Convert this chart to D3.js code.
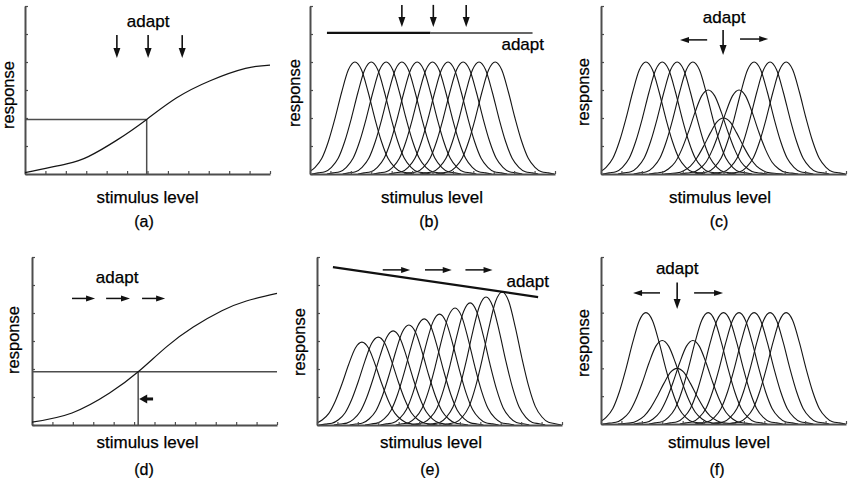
<!DOCTYPE html>
<html><head><meta charset="utf-8">
<script src="https://cdn.jsdelivr.net/npm/d3@7"></script>
<style>
body{margin:0;background:#fff}
svg{display:block}
text{font-family:"Liberation Sans",Arial,Helvetica,sans-serif;fill:#000;stroke:#000;stroke-width:0.25px}
</style>
</head><body>
<svg id="chart" width="854" height="478"></svg>
<script>
// ---------------- data ----------------
const stimTicks = d3.range(0, 13);   // stimulus-level tick positions
const respTicks = d3.range(0, 7);    // response tick positions
const panelLetters = ["(a)", "(b)", "(c)", "(d)", "(e)", "(f)"];

// shape of one tuning curve: offset from its centre vs. fraction of its peak
const bellOffsets   = [-2.9,-2.6,-2.27,-1.95,-1.62,-1.3,-0.97,-0.65,-0.32,0,0.32,0.65,0.97,1.3,1.62,1.95,2.27,2.6,2.9];
const bellFractions = [0.00,0.01,0.02,0.06,0.14,0.29,0.50,0.73,0.93,1,0.93,0.73,0.50,0.29,0.14,0.06,0.02,0.01,0.00];

const tuningCenters = [2.2, 3.0, 3.73, 4.5, 5.25, 6.0, 6.76, 7.5, 8.28, 9.07];
const peaksB = [4, 4, 4, 4, 4, 4, 4, 4, 4, 4];
const peaksC = [4, 4, 4, 4, 3, 2, 3, 4, 4, 4];
const peaksE = [2.96, 3.14, 3.36, 3.57, 3.79, 3.96, 4.18, 4.36, 4.57, 4.75];
const peaksF = [4, 3, 2, 3, 4, 4, 4, 4, 4, 4];

const sigmoidAX = [0, 2.04, 3.1, 4.5, 5.96, 7.43, 9.07, 10.8, 12];
const sigmoidAY = [0.05, 0.36, 0.62, 1.21, 1.95, 2.72, 3.33, 3.77, 3.89];
const sigmoidDX = [0, 1.96, 3.8, 5.2, 6.6, 7.9, 9.3, 10.5, 12];
const sigmoidDY = [0.1, 0.43, 1.14, 1.9, 2.8, 3.5, 4.08, 4.43, 4.7];
const refPointA = [5.96, 1.95];
const refPointD = [5.2, 1.9];

// annotation arrows [x1, y1, x2, y2] in data units
const arrowsA = [[4.5,4.96,4.5,4.14],[6.03,4.96,6.03,4.14],[7.7,4.96,7.7,4.14]];
const arrowsB = [[4.5,6.04,4.5,5.25],[6.04,6.04,6.04,5.25],[7.65,6.04,7.65,5.25]];
const arrowsC = [[5.2,4.79,3.87,4.79],[5.98,5.14,5.98,4.25],[6.81,4.82,8.19,4.82]];
const arrowsD = [[1.96,4.52,3.09,4.52],[3.63,4.52,4.8,4.52],[5.39,4.52,6.52,4.52]];
const shiftArrowD = [5.93, 0.93, 5.25, 0.93];
const arrowsE = [[3.22,5.54,4.56,5.54],[5.29,5.54,6.6,5.54],[7.27,5.54,8.6,5.54]];
const arrowsF = [[2.89,4.71,1.57,4.71],[3.73,5.08,3.73,4.13],[4.56,4.71,5.98,4.71]];
const adaptLineB = [0.83, 5.9, 10.9, 5.04];          // x start, x split, x end, y
const adaptLineE = [0.78, 5.64, 10.83, 4.57];        // x1, y1, x2, y2
const adaptLabelPos = [[6.03,5.25],[10.42,4.43],[6.03,5.38],[4.17,5.08],[10.32,4.92],[3.73,5.39]];

// ---------------- layout ----------------
const panels = [
  {x0:25,  y0:174, yTop:6,   respX:13.5,  respY:95,  stimX:147.5, stimY:203, labX:144, labY:227},
  {x0:310, y0:174, yTop:6,   respX:300.3, respY:93,  stimX:432,   stimY:203, labX:429, labY:227},
  {x0:601, y0:174, yTop:6,   respX:588.6, respY:92,  stimX:720,   stimY:203, labX:719, labY:227},
  {x0:32,  y0:425, yTop:257, respX:18.6,  respY:340, stimX:147.5, stimY:448, labX:144, labY:475},
  {x0:317, y0:425, yTop:257, respX:305.3, respY:342, stimX:431,   stimY:448, labX:430, labY:475},
  {x0:601, y0:424, yTop:257, respX:588.6, respY:343, stimX:719,   stimY:448, labX:717, labY:475}
];
const AXW = 245;
const AXIS_COL = "#4d4d4d", CURVE_COL = "#151515";

const svg = d3.select("#chart");

function arrow(g, x, y, a, o) {
  const [x1,y1,x2,y2] = a;
  const X1 = x(x1), Y1 = y(y1), X2 = x(x2), Y2 = y(y2);
  const L = Math.hypot(X2-X1, Y2-Y1), ux = (X2-X1)/L, uy = (Y2-Y1)/L;
  const hl = o.hl, hw = o.hw;
  const bx = X2 - ux*hl, by = Y2 - uy*hl;
  g.append("line").attr("x1",X1).attr("y1",Y1).attr("x2",bx+ux*1).attr("y2",by+uy*1)
    .attr("stroke","#111").attr("stroke-width",o.sw);
  g.append("path")
    .attr("d",`M${X2},${Y2}L${bx - uy*hw/2},${by + ux*hw/2}L${bx + uy*hw/2},${by - ux*hw/2}Z`)
    .attr("fill","#111");
}

panels.forEach((p, i) => {
  const g = svg.append("g");
  const x = d3.scaleLinear().domain([0,12]).range([p.x0, p.x0 + AXW]);
  const y = d3.scaleLinear().domain([0,6]).range([p.y0, p.yTop]);
  p.x = x; p.y = y; p.g = g;

  // clip for curves to the plotting area
  const cid = "clip" + i;
  svg.append("clipPath").attr("id", cid).append("rect")
    .attr("x", p.x0).attr("y", 0).attr("width", AXW + 2).attr("height", p.y0 + 2);
  p.plot = g.append("g").attr("clip-path", `url(#${cid})`);

  // axes
  const ax = g.append("g").attr("transform",`translate(0,${p.y0})`)
    .call(d3.axisBottom(x).tickValues(stimTicks).tickSizeInner(-3).tickSizeOuter(0).tickFormat(""));
  const ay = g.append("g").attr("transform",`translate(${p.x0},0)`)
    .call(d3.axisLeft(y).tickValues(respTicks).tickSizeInner(-3).tickSizeOuter(0).tickFormat(""));
  [ax, ay].forEach(a => {
    a.select(".domain").attr("stroke",AXIS_COL).attr("stroke-width",2);
    a.selectAll(".tick line").attr("stroke",AXIS_COL).attr("stroke-width",1.2);
  });

  // texts
  g.append("text").attr("transform",`translate(${p.respX},${p.respY}) rotate(-90)`)
    .attr("text-anchor","middle").attr("font-size",16.5).text("response");
  g.append("text").attr("x",p.stimX).attr("y",p.stimY)
    .attr("text-anchor","middle").attr("font-size",17).text("stimulus level");
  g.append("text").attr("x",p.labX).attr("y",p.labY)
    .attr("text-anchor","middle").attr("font-size",16).text(panelLetters[i]);
  g.append("text").attr("x",x(adaptLabelPos[i][0])).attr("y",y(adaptLabelPos[i][1]))
    .attr("text-anchor","middle").attr("font-size",17).text("adapt");
});

// ----- sigmoid panels (a) and (d) -----
function sigmoidPanel(p, xs, ys, ref, fullRef) {
  const {g, x, y} = p;
  g.append("line").attr("x1",x(0)).attr("x2",fullRef ? x(12) : x(ref[0]))
    .attr("y1",y(ref[1])).attr("y2",y(ref[1]))
    .attr("stroke",AXIS_COL).attr("stroke-width",1.5);
  g.append("line").attr("x1",x(ref[0])).attr("x2",x(ref[0]))
    .attr("y1",y(0)).attr("y2",y(ref[1]))
    .attr("stroke",AXIS_COL).attr("stroke-width",1.5);
  const line = d3.line().x(d=>x(d[0])).y(d=>y(d[1])).curve(d3.curveNatural);
  g.append("path").attr("d", line(xs.map((v,k)=>[v, ys[k]])))
    .attr("fill","none").attr("stroke",CURVE_COL).attr("stroke-width",1.2);
}
sigmoidPanel(panels[0], sigmoidAX, sigmoidAY, refPointA, false);
sigmoidPanel(panels[3], sigmoidDX, sigmoidDY, refPointD, true);

// ----- tuning-curve panels (b), (c), (e), (f) -----
function tuningPanel(p, peaks) {
  const {plot, x, y} = p;
  const line = d3.line().x(d=>x(d[0])).y(d=>y(d[1])).curve(d3.curveMonotoneX);
  tuningCenters.forEach((c, k) => {
    const pts = bellOffsets.map((o, j) => [c + o, peaks[k] * bellFractions[j]]);
    plot.append("path").attr("d", line(pts))
      .attr("fill","none").attr("stroke",CURVE_COL).attr("stroke-width",1.1);
  });
}
tuningPanel(panels[1], peaksB);
tuningPanel(panels[2], peaksC);
tuningPanel(panels[4], peaksE);
tuningPanel(panels[5], peaksF);

// ----- adaptation lines -----
{
  const {g, x, y} = panels[1];
  g.append("line").attr("x1",x(adaptLineB[0])).attr("x2",x(adaptLineB[1]))
    .attr("y1",y(adaptLineB[3])).attr("y2",y(adaptLineB[3]))
    .attr("stroke","#111").attr("stroke-width",2.2);
  g.append("line").attr("x1",x(adaptLineB[1])).attr("x2",x(adaptLineB[2]))
    .attr("y1",y(adaptLineB[3])).attr("y2",y(adaptLineB[3]))
    .attr("stroke","#333").attr("stroke-width",1.5);
}
{
  const {g, x, y} = panels[4];
  g.append("line").attr("x1",x(adaptLineE[0])).attr("y1",y(adaptLineE[1]))
    .attr("x2",x(adaptLineE[2])).attr("y2",y(adaptLineE[3]))
    .attr("stroke","#111").attr("stroke-width",2.2);
}

// ----- arrows -----
const vOpt = {sw:1.6, hl:10, hw:7};
const hOpt = {sw:1.5, hl:9, hw:6};
arrowsA.forEach(a => arrow(panels[0].g, panels[0].x, panels[0].y, a, vOpt));
arrowsB.forEach(a => arrow(panels[1].g, panels[1].x, panels[1].y, a, vOpt));
arrowsC.forEach(a => arrow(panels[2].g, panels[2].x, panels[2].y, a, a[0]===a[2] ? vOpt : hOpt));
arrowsD.forEach(a => arrow(panels[3].g, panels[3].x, panels[3].y, a, hOpt));
arrow(panels[3].g, panels[3].x, panels[3].y, shiftArrowD, {sw:3, hl:8, hw:9});
arrowsE.forEach(a => arrow(panels[4].g, panels[4].x, panels[4].y, a, hOpt));
arrowsF.forEach(a => arrow(panels[5].g, panels[5].x, panels[5].y, a, a[0]===a[2] ? vOpt : hOpt));
</script>
</body></html>
